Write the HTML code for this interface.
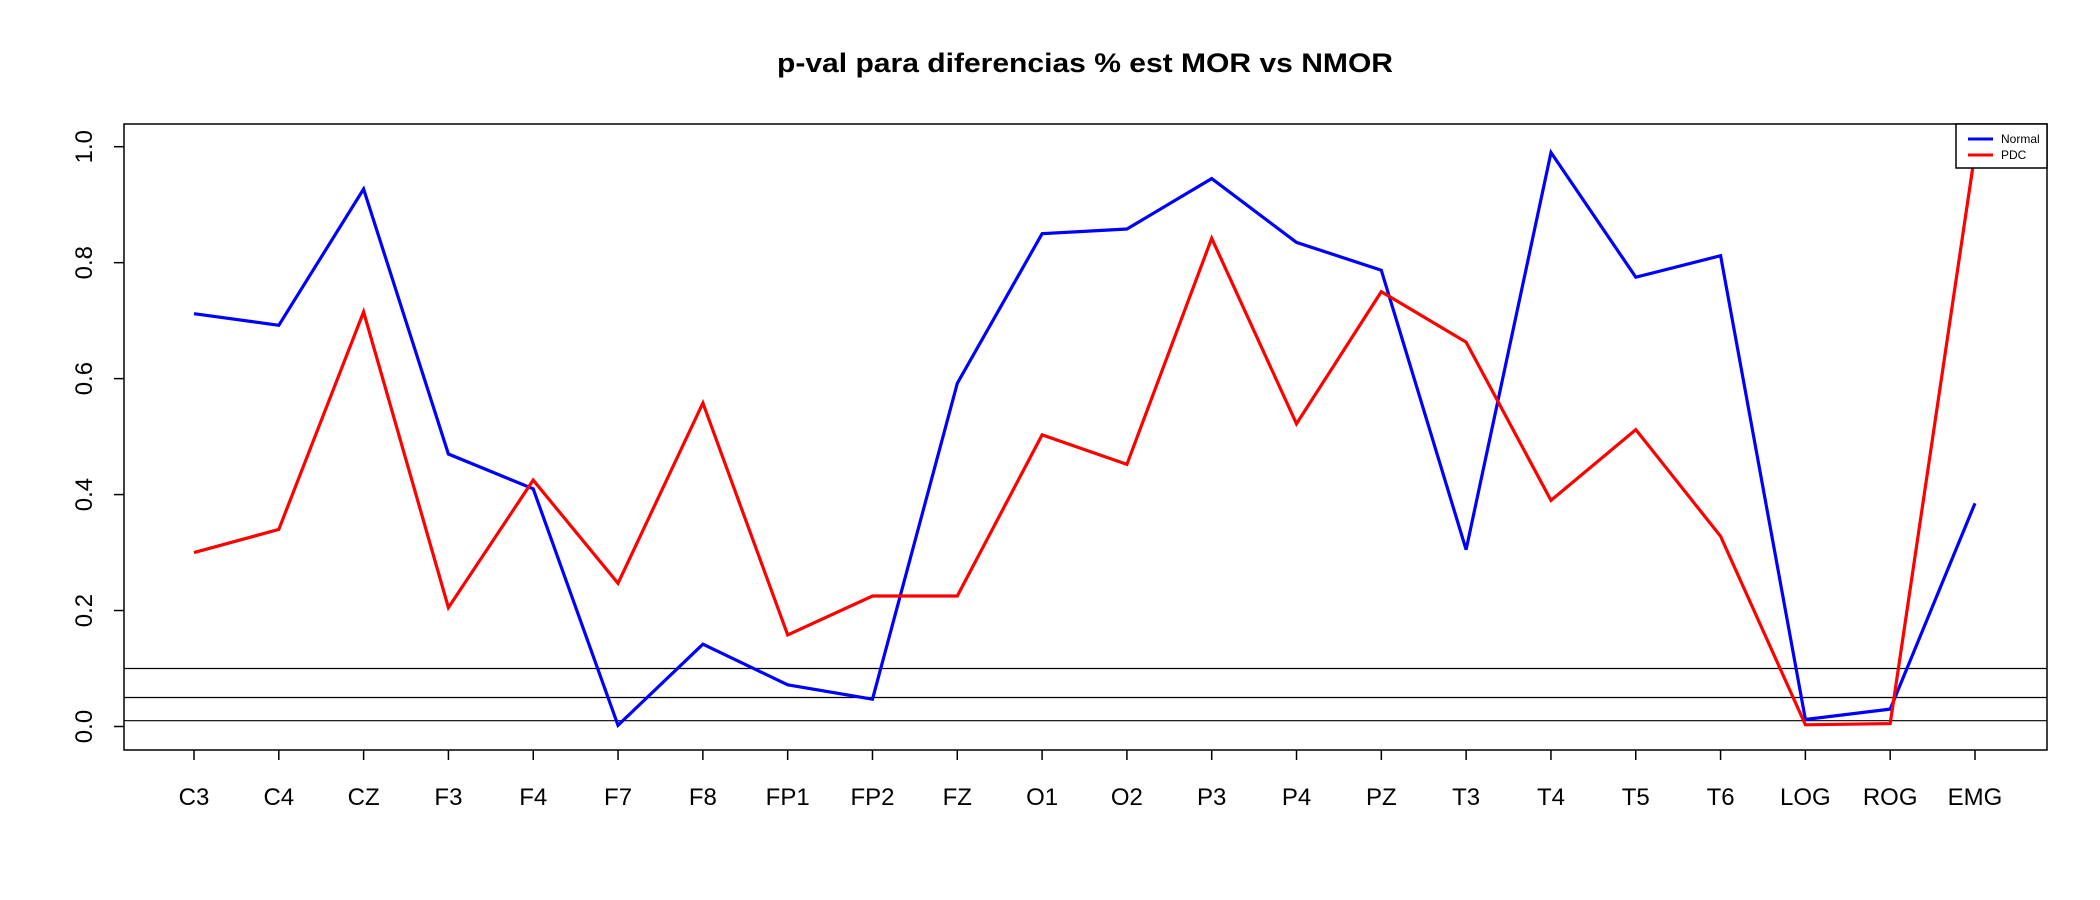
<!DOCTYPE html>
<html><head><meta charset="utf-8"><style>
html,body{margin:0;padding:0;background:#fff;}
svg{display:block;font-family:"Liberation Sans",Arial,sans-serif;}
</style></head><body>
<svg id="chart" width="2100" height="900" viewBox="0 0 2100 900">
<text x="1085" y="72" text-anchor="middle" font-size="27" font-weight="bold" textLength="616" lengthAdjust="spacingAndGlyphs">p-val para diferencias % est MOR vs NMOR</text>
<rect x="124" y="124" width="1923" height="626" fill="none" stroke="#000" stroke-width="1.5"/>
<g id="axes"></g>
<g id="series"></g>
<g>
<rect x="1956" y="124" width="91" height="44" fill="#fff" stroke="#000" stroke-width="1.5"/>
<line x1="1968" y1="139" x2="1993" y2="139" stroke="#0000ff" stroke-width="3"/>
<text x="2001" y="143" font-size="12">Normal</text>
<line x1="1968" y1="155" x2="1993" y2="155" stroke="#ff0000" stroke-width="3"/>
<text x="2001" y="159" font-size="12">PDC</text>
</g>
</svg>
<script>
const categories = ["C3","C4","CZ","F3","F4","F7","F8","FP1","FP2","FZ","O1","O2","P3","P4","PZ","T3","T4","T5","T6","LOG","ROG","EMG"];
const normalValues = [0.712,0.692,0.927,0.47,0.41,0.002,0.142,0.072,0.047,0.592,0.85,0.858,0.945,0.835,0.787,0.305,0.99,0.775,0.812,0.012,0.03,0.385];
const pdcValues = [0.30,0.34,0.715,0.205,0.425,0.247,0.558,0.158,0.225,0.225,0.503,0.452,0.842,0.522,0.75,0.663,0.39,0.512,0.328,0.003,0.005,0.99];
const yTicks = [0.0,0.2,0.4,0.6,0.8,1.0];
const refLines = [0.1,0.05,0.01];

const NS = "http://www.w3.org/2000/svg";
function xPos(i){ return 194 + i * (1975 - 194) / (categories.length - 1); }
function yPos(v){ return 726.5 - v * 579.8; }
function mk(tag, attrs, parent){ const e=document.createElementNS(NS,tag); for(const k in attrs) e.setAttribute(k,attrs[k]); parent.appendChild(e); return e; }
const axes=document.getElementById('axes'), series=document.getElementById('series');

yTicks.forEach(t=>{
  const y=yPos(t);
  const tk=mk('line',{x1:114,x2:124,y1:y,y2:y,stroke:'#000','stroke-width':1.5},axes);
  
  
  const lb=mk('text',{x:0,y:0,'font-size':24,'text-anchor':'middle',transform:`translate(92,${y}) rotate(-90)`},axes);
  lb.textContent=t.toFixed(1);
  
  
});
categories.forEach((c,i)=>{
  const x=xPos(i);
  const tk=mk('line',{x1:x,x2:x,y1:750,y2:760,stroke:'#000','stroke-width':1.5},axes);
  
  
  const lb=mk('text',{x:x,y:805,'font-size':24,'text-anchor':'middle'},axes);
  lb.textContent=c;
  
  
});
refLines.forEach(r=>{
  const y=yPos(r);
  const l=mk('line',{x1:124,x2:2047,y1:y,y2:y,stroke:'#000','stroke-width':1.2},axes);
  
  
});
function drawSeries(vals,color,name){
  const pts=vals.map((v,i)=>xPos(i).toFixed(1)+','+yPos(v).toFixed(1)).join(' ');
  const p=mk('polyline',{points:pts,fill:'none',stroke:color,'stroke-width':3.2,'stroke-linejoin':'miter'},series);
  
  
}
drawSeries(normalValues,'#0000ff','normal-line');
drawSeries(pdcValues,'#ff0000','pdc-line');
</script>
</body></html>
